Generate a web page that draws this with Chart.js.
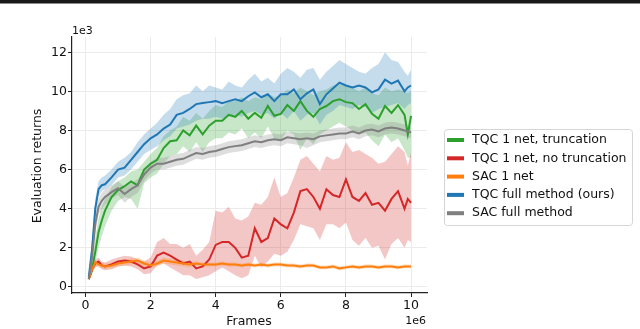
<!DOCTYPE html>
<html lang="en">
<head>
<meta charset="UTF-8">
<title>TQC ablation - evaluation returns</title>
<style>
  body { margin: 0; background: #fff; }
  canvas { display: block; }
</style>
</head>
<body>
<canvas id="chart" width="640" height="329"></canvas>
<script src="https://cdn.jsdelivr.net/npm/chart.js@4.4.0/dist/chart.umd.min.js"></script>
<script>
// frames in units of 1e6, returns in units of 1e3
const frames = [0.1, 0.2, 0.3, 0.4, 0.5, 0.6,
  0.8, 1.0, 1.2, 1.4, 1.6, 1.8, 2.0, 2.2, 2.4, 2.6,
  2.8, 3.0, 3.2, 3.4, 3.6, 3.8, 4.0, 4.2, 4.4, 4.6,
  4.8, 5.0, 5.2, 5.4, 5.6, 5.8, 6.0, 6.2, 6.4, 6.6,
  6.8, 7.0, 7.2, 7.4, 7.6, 7.8, 8.0, 8.2, 8.4, 8.6,
  8.8, 9.0, 9.2, 9.4, 9.6, 9.8, 9.9, 10.0];

const xTicks = [0, 2, 4, 6, 8, 10];
const yTicks = [0, 2, 4, 6, 8, 10, 12];

// TQC full method (ours)
const tqcFull = [0.5, 1.9, 4.0, 5.0, 5.2, 5.25,
  5.6, 6.0, 6.1, 6.5, 6.9, 7.3, 7.6, 7.8, 8.1, 8.3,
  8.8, 8.9, 9.1, 9.35, 9.4, 9.45, 9.5, 9.4, 9.5, 9.6,
  9.5, 9.75, 9.95, 9.7, 9.85, 9.5, 9.85, 9.85, 10.1, 9.6,
  9.9, 10.1, 9.35, 9.85, 10.15, 10.45, 10.3, 10.2, 10.3, 10.2,
  9.95, 10.1, 10.6, 10.4, 10.55, 10.0, 10.2, 10.3];
const tqcFullHi = [0.6, 2.4, 4.5, 5.4, 5.6, 5.7,
  6.0, 6.4, 6.6, 6.9, 7.4, 7.8, 8.1, 8.4, 8.8, 9.1,
  9.6, 9.8, 9.9, 10.3, 10.0, 10.3, 10.2, 10.1, 10.5, 10.3,
  10.2, 10.6, 10.9, 10.5, 10.7, 10.4, 10.9, 11.2, 11.0, 10.7,
  11.1, 11.2, 10.6, 11.0, 11.3, 11.6, 11.4, 11.2, 11.0, 10.9,
  11.2, 11.4, 12.0, 11.6, 11.5, 11.0, 10.8, 11.1];
const tqcFullLo = [0.4, 1.5, 3.5, 4.6, 4.9, 5.0,
  5.2, 5.6, 5.7, 6.0, 6.4, 6.8, 7.0, 7.2, 7.5, 7.7,
  8.1, 8.2, 8.3, 8.5, 8.6, 8.6, 8.7, 8.6, 8.7, 8.8,
  8.7, 8.9, 9.0, 8.8, 8.9, 8.6, 8.9, 8.6, 9.0, 8.5,
  8.8, 8.9, 8.3, 8.8, 9.0, 9.3, 9.2, 9.1, 9.3, 9.2,
  8.9, 9.1, 9.2, 9.3, 9.4, 9.1, 9.3, 9.4];

// TQC 1 net, truncation
const tqcTrunc = [0.4, 0.9, 1.8, 2.8, 3.4, 3.9,
  4.6, 4.95, 5.15, 5.4, 5.2, 6.0, 6.3, 6.5, 7.1, 7.45,
  7.5, 8.0, 7.75, 8.25, 7.8, 8.25, 8.5, 8.5, 8.8, 8.7,
  9.0, 8.6, 8.9, 8.65, 9.25, 8.75, 8.85, 9.3, 9.0, 9.5,
  9.0, 8.7, 9.1, 9.25, 9.5, 9.6, 9.45, 9.4, 9.1, 9.35,
  8.85, 8.6, 9.25, 8.9, 9.3, 8.8, 7.8, 8.75];
const tqcTruncHi = [0.5, 1.3, 2.5, 3.5, 4.1, 4.5,
  5.1, 5.4, 5.6, 5.9, 6.0, 6.4, 6.8, 7.1, 7.7, 8.0,
  8.2, 8.7, 8.5, 8.9, 8.6, 9.0, 9.3, 9.2, 9.5, 9.5,
  9.7, 9.5, 9.7, 9.6, 9.9, 9.7, 9.8, 10.1, 9.9, 10.2,
  10.0, 9.8, 10.0, 10.1, 10.3, 10.4, 10.3, 10.2, 10.0, 10.2,
  9.9, 9.8, 10.2, 10.0, 10.1, 10.0, 9.9, 10.0];
const tqcTruncLo = [0.35, 0.6, 1.2, 2.0, 2.6, 3.1,
  3.9, 4.4, 4.6, 4.5, 4.0, 5.3, 5.6, 5.8, 6.3, 6.7,
  6.8, 7.2, 6.9, 7.4, 6.9, 7.4, 7.6, 7.6, 7.9, 7.8,
  8.1, 7.6, 7.9, 7.6, 8.2, 7.6, 7.5, 8.0, 7.8, 7.0,
  7.6, 7.3, 7.8, 8.0, 8.2, 8.4, 8.2, 8.0, 7.8, 7.9,
  7.5, 7.2, 7.8, 7.4, 7.6, 7.0, 6.6, 6.6];

// SAC full method
const sacFull = [0.4, 1.5, 3.2, 4.1, 4.4, 4.6,
  4.85, 5.05, 4.75, 5.0, 5.2, 5.75, 6.1, 6.3, 6.3, 6.4,
  6.5, 6.55, 6.7, 6.85, 6.8, 6.9, 6.95, 7.05, 7.15, 7.2,
  7.25, 7.35, 7.45, 7.4, 7.5, 7.55, 7.5, 7.65, 7.6, 7.55,
  7.6, 7.55, 7.7, 7.75, 7.8, 7.85, 7.85, 7.95, 7.85, 8.0,
  8.05, 7.95, 8.1, 8.15, 8.1, 8.0, 7.95, 7.9];
const sacFullHi = [0.5, 1.8, 3.6, 4.5, 4.8, 5.0,
  5.2, 5.4, 5.1, 5.3, 5.5, 6.0, 6.4, 6.6, 6.6, 6.7,
  6.8, 6.85, 7.0, 7.15, 7.1, 7.2, 7.25, 7.35, 7.45, 7.5,
  7.55, 7.65, 7.75, 7.7, 7.8, 7.85, 7.8, 7.95, 7.9, 7.85,
  7.9, 7.85, 8.0, 8.05, 8.1, 8.15, 8.15, 8.25, 8.15, 8.3,
  8.35, 8.25, 8.4, 8.45, 8.4, 8.3, 8.25, 8.2];
const sacFullLo = [0.3, 1.2, 2.8, 3.7, 4.0, 4.2,
  4.5, 4.7, 4.3, 4.6, 4.8, 5.4, 5.8, 6.0, 6.0, 6.1,
  6.2, 6.25, 6.4, 6.55, 6.5, 6.6, 6.65, 6.75, 6.85, 6.9,
  6.95, 7.05, 7.15, 7.1, 7.2, 7.25, 7.2, 7.35, 7.3, 7.25,
  7.1, 7.25, 7.4, 7.45, 7.5, 7.55, 7.55, 7.65, 7.55, 7.7,
  7.75, 7.65, 7.8, 7.85, 7.8, 7.7, 7.65, 7.6];

// TQC 1 net, no truncation
const tqcNoTrunc = [0.4, 0.9, 1.2, 1.3, 1.1, 1.05,
  1.15, 1.3, 1.35, 1.3, 1.15, 0.95, 1.05, 1.6, 1.75, 1.6,
  1.4, 1.2, 1.3, 0.95, 1.05, 1.4, 2.15, 2.3, 2.3, 2.0,
  1.5, 1.6, 3.0, 2.3, 2.5, 3.5, 3.2, 3.0, 3.8, 4.9,
  5.0, 4.6, 4.0, 5.0, 4.7, 4.6, 5.5, 4.6, 4.4, 4.8,
  4.2, 4.3, 3.9, 4.5, 4.9, 4.0, 4.5, 4.3];
const tqcNoTruncHi = [0.5, 1.1, 1.4, 1.5, 1.3, 1.25,
  1.4, 1.5, 1.6, 1.55, 1.4, 1.3, 1.5, 2.3, 2.5, 2.2,
  2.2, 2.0, 2.2, 1.6, 1.9, 2.3, 3.9, 3.8, 4.1, 3.5,
  3.4, 3.6, 4.3, 4.2, 4.6, 5.6, 4.6, 4.8, 5.6, 6.5,
  6.7, 6.3, 5.9, 6.7, 6.5, 6.6, 7.4, 6.9, 7.0, 6.8,
  6.6, 6.3, 6.4, 6.8, 7.2, 6.9, 6.2, 6.9];
const tqcNoTruncLo = [0.3, 0.7, 1.0, 1.1, 0.9, 0.85,
  0.9, 1.05, 1.1, 1.05, 0.9, 0.65, 0.7, 1.1, 1.2, 1.0,
  0.8, 0.6, 0.6, 0.4, 0.5, 0.6, 0.8, 1.0, 0.8, 0.6,
  0.45, 0.6, 1.6, 1.0, 1.3, 1.7, 1.6, 1.8, 2.4, 3.2,
  3.1, 3.0, 2.4, 3.2, 3.2, 3.0, 3.3, 2.4, 2.1, 2.5,
  2.0, 2.1, 1.4, 2.2, 2.5, 2.0, 2.4, 2.3];

// SAC 1 net
const sacOne = [0.4, 0.9, 1.25, 1.15, 1.1, 1.05,
  1.1, 1.2, 1.25, 1.3, 1.35, 1.2, 1.1, 1.2, 1.35, 1.3,
  1.25, 1.2, 1.15, 1.2, 1.15, 1.15, 1.15, 1.2, 1.15, 1.15,
  1.1, 1.15, 1.1, 1.15, 1.1, 1.15, 1.15, 1.1, 1.1, 1.05,
  1.1, 1.1, 1.0, 1.0, 1.05, 0.95, 1.0, 1.05, 1.0, 1.05,
  1.05, 1.0, 1.05, 1.05, 1.0, 1.05, 1.05, 1.05];
const sacOneHi = [0.5, 1.0, 1.35, 1.3, 1.25, 1.2,
  1.25, 1.35, 1.4, 1.45, 1.5, 1.35, 1.25, 1.35, 1.5, 1.45,
  1.4, 1.35, 1.3, 1.3, 1.25, 1.25, 1.25, 1.3, 1.25, 1.25,
  1.2, 1.25, 1.2, 1.25, 1.2, 1.25, 1.25, 1.2, 1.2, 1.15,
  1.2, 1.2, 1.1, 1.1, 1.15, 1.05, 1.1, 1.15, 1.1, 1.15,
  1.15, 1.1, 1.15, 1.15, 1.1, 1.15, 1.15, 1.15];
const sacOneLo = [0.3, 0.8, 1.1, 1.0, 0.95, 0.9,
  0.95, 1.05, 1.1, 1.15, 1.2, 1.05, 0.95, 1.05, 1.2, 1.15,
  1.1, 1.05, 1.0, 1.1, 1.05, 1.05, 1.05, 1.1, 1.05, 1.05,
  1.0, 1.05, 1.0, 1.05, 1.0, 1.05, 1.05, 1.0, 1.0, 0.95,
  1.0, 1.0, 0.9, 0.9, 0.95, 0.85, 0.9, 0.95, 0.9, 0.95,
  0.95, 0.9, 0.95, 0.95, 0.9, 0.95, 0.95, 0.95];

const legendOrder = ['TQC 1 net, truncation', 'TQC 1 net, no truncation', 'SAC 1 net',
  'TQC full method (ours)', 'SAC full method'];

const FONT = '"DejaVu Sans", sans-serif';

function pts(ys) {
  return ys.map((y, i) => ({ x: frames[i], y: y }));
}

// first dataset is drawn on top in chart.js, so the list runs top -> bottom
const series = [
  { label: 'SAC full method', mean: sacFull, hi: sacFullHi, lo: sacFullLo, rgb: '127,127,127' },
  { label: 'TQC full method (ours)', mean: tqcFull, hi: tqcFullHi, lo: tqcFullLo, rgb: '31,119,180' },
  { label: 'SAC 1 net', mean: sacOne, hi: sacOneHi, lo: sacOneLo, rgb: '255,127,14' },
  { label: 'TQC 1 net, no truncation', mean: tqcNoTrunc, hi: tqcNoTruncHi, lo: tqcNoTruncLo, rgb: '214,39,40' },
  { label: 'TQC 1 net, truncation', mean: tqcTrunc, hi: tqcTruncHi, lo: tqcTruncLo, rgb: '44,160,44' }
];

const datasets = [];
series.forEach(s => {
  datasets.push({
    label: s.label,
    data: pts(s.mean),
    borderColor: 'rgb(' + s.rgb + ')',
    borderWidth: 2,
    pointRadius: 0,
    tension: 0,
    fill: false
  });
});
// shaded bands: lower edge, then upper edge filled down to it
series.forEach(s => {
  datasets.push({
    label: s.label + ' lo',
    data: pts(s.lo),
    borderWidth: 0,
    pointRadius: 0,
    fill: false
  });
  datasets.push({
    label: s.label + ' hi',
    data: pts(s.hi),
    borderWidth: 0,
    pointRadius: 0,
    fill: '-1',
    backgroundColor: 'rgba(' + s.rgb + ',0.26)'
  });
});

// axis titles, offset texts, top rule
const textPlugin = {
  id: 'texts',
  afterDraw(chart) {
    const ctx = chart.ctx;
    ctx.save();
    ctx.fillStyle = '#1a1a1a';
    ctx.fillRect(0, 0, 640, 3);
    ctx.fillStyle = '#8a8a8a';
    ctx.fillRect(0, 3, 640, 1);

    ctx.fillStyle = '#111';
    ctx.font = '12.5px ' + FONT;
    ctx.textBaseline = 'middle';
    ctx.textAlign = 'center';
    ctx.fillText('Frames', 249, 322);

    ctx.save();
    ctx.translate(38, 166);
    ctx.rotate(-Math.PI / 2);
    ctx.fillText('Evaluation returns', 0, 0);
    ctx.restore();

    ctx.font = '11px ' + FONT;
    ctx.textAlign = 'right';
    ctx.fillText('1e6', 426, 321.5);
    ctx.textAlign = 'left';
    ctx.fillText('1e3', 72, 31);
    ctx.restore();
  }
};

// matplotlib-like legend box on the right
const legendPlugin = {
  id: 'sideLegend',
  afterDraw(chart) {
    const ctx = chart.ctx;
    ctx.save();
    ctx.beginPath();
    ctx.roundRect(444.5, 129.5, 188, 96, 3);
    ctx.fillStyle = 'rgba(255,255,255,0.8)';
    ctx.fill();
    ctx.strokeStyle = '#d5d5d5';
    ctx.lineWidth = 1;
    ctx.stroke();

    ctx.font = '12.5px ' + FONT;
    ctx.textBaseline = 'middle';
    ctx.textAlign = 'left';
    legendOrder.forEach((name, i) => {
      const ds = chart.data.datasets.find(d => d.label === name);
      const y = 140 + i * 18.3;
      ctx.fillStyle = ds.borderColor;
      ctx.fillRect(447, y - 2, 17, 4);
      ctx.fillStyle = '#111';
      ctx.fillText(name, 472, y);
    });
    ctx.restore();
  }
};

const axisCommon = {
  type: 'linear',
  grid: { color: '#ebebeb', lineWidth: 1, tickColor: '#222', tickLength: 4 },
  border: { color: '#222', width: 1.2 },
  ticks: { color: '#111', font: { family: FONT, size: 12.5 }, padding: 1, autoSkip: false, maxRotation: 0 }
};

new Chart(document.getElementById('chart'), {
  type: 'line',
  data: { datasets: datasets },
  options: {
    responsive: false,
    animation: false,
    events: [],
    layout: { padding: { left: 0, top: 37, right: 213, bottom: 0 } },
    plugins: {
      legend: { display: false },
      tooltip: { enabled: false },
      filler: { propagate: false, drawTime: 'beforeDatasetsDraw' }
    },
    scales: {
      x: Object.assign({}, axisCommon, {
        min: -0.415,
        max: 10.49,
        afterBuildTicks: s => { s.ticks = xTicks.map(v => ({ value: v })); },
        afterFit: s => { s.height = 36; }
      }),
      y: Object.assign({}, axisCommon, {
        min: -0.31,
        max: 12.78,
        afterBuildTicks: s => { s.ticks = yTicks.map(v => ({ value: v })); },
        afterFit: s => { s.width = 72; }
      })
    }
  },
  plugins: [textPlugin, legendPlugin]
});
</script>
</body>
</html>
